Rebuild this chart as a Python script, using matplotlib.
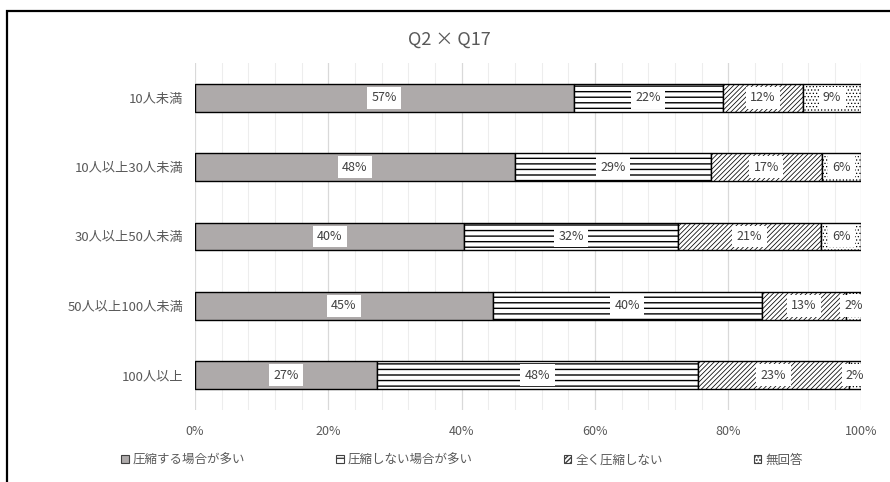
import numpy as np
import matplotlib
matplotlib.use("Agg")
import matplotlib.pyplot as plt
from matplotlib.patches import Patch, Rectangle

plt.rcParams['font.family'] = ['Noto Sans CJK JP', 'DejaVu Sans']

# data (share of answers, %)
categories = ["10人未満", "10人以上30人未満", "30人以上50人未満", "50人以上100人未満", "100人以上"]
series_names = ["圧縮する場合が多い", "圧縮しない場合が多い", "全く圧縮しない", "無回答"]
often = [56.8, 48.0, 40.4, 44.7, 27.3]
not_often = [22.4, 29.4, 32.1, 40.3, 48.2]
never = [12.0, 16.6, 21.4, 12.7, 22.6]
no_answer = [8.8, 6.0, 6.1, 2.3, 1.9]
x_ticks = [0, 20, 40, 60, 80, 100]
x_ticklabels = ["0%", "20%", "40%", "60%", "80%", "100%"]

series = [often, not_often, never, no_answer]
fills = ["#AEAAAA", "white", "white", "white"]
hatches = [None, "---", "///////", "....."]
hatch_lw = [1.0, 1.0, 0.55, 0.5]

fig = plt.figure(figsize=(8.9, 4.82), dpi=100)
ax = fig.add_axes([195/890, 1-410/482, 666.5/890, 347/482])

y = np.arange(len(categories))
left = np.zeros(len(categories))
for vals, fc, h, hlw, name in zip(series, fills, hatches, hatch_lw, series_names):
    vals = np.array(vals)
    with plt.rc_context({'hatch.linewidth': hlw}):
        ax.barh(y, vals, left=left, height=0.4, color=fc, edgecolor="black",
                hatch=h, linewidth=1.0, label=name, zorder=2)
    for yi, l, v in zip(y, left, vals):
        ax.text(l + v/2, yi, f"{round(v)}%", ha="center", va="center",
                fontsize=9, color="#404040", zorder=4,
                bbox=dict(boxstyle="square,pad=0.35", fc="white", ec="none"))
    left += vals

ax.set_xlim(0, 100)
ax.set_ylim(len(categories) - 0.5, -0.5)
ax.set_xticks(x_ticks)
ax.set_xticklabels(x_ticklabels)
ax.set_xticks(np.arange(0, 101, 4), minor=True)
ax.set_yticks(y)
ax.set_yticklabels(categories)
ax.tick_params(axis="both", which="both", length=0, labelsize=9, labelcolor="#595959")
ax.tick_params(axis="y", labelsize=9.5, pad=8.5)
ax.tick_params(axis="x", pad=11)
ax.grid(axis="x", which="minor", color="#EDEDED", linewidth=0.8, zorder=0)
ax.grid(axis="x", which="major", color="#D9D9D9", linewidth=0.9, zorder=0)
for s in ax.spines.values():
    s.set_visible(False)

fig.text(449.5/890, 1-40/482, "Q2 × Q17", ha="center", va="center",
         fontsize=13, color="#595959")

handles = []
for fc, h, hlw in zip(fills, hatches, hatch_lw):
    with plt.rc_context({'hatch.linewidth': hlw}):
        handles.append(Patch(facecolor=fc, edgecolor="#404040", hatch=h, linewidth=0.8))
fig.legend(handles, series_names, loc="center", bbox_to_anchor=(462/890, 1-460/482),
           ncol=4, frameon=False, fontsize=9, handlelength=0.6, handleheight=0.6,
           handletextpad=0.3, columnspacing=7.3, labelcolor="#595959")

# outer chart frame (cropped at right and bottom)
fig.patches.append(Rectangle((7/890, -0.1), 1.0, 1.1 - 10.5/482, transform=fig.transFigure,
                             fill=False, edgecolor="black", linewidth=1.6))

fig.savefig("out.png", dpi=100)
